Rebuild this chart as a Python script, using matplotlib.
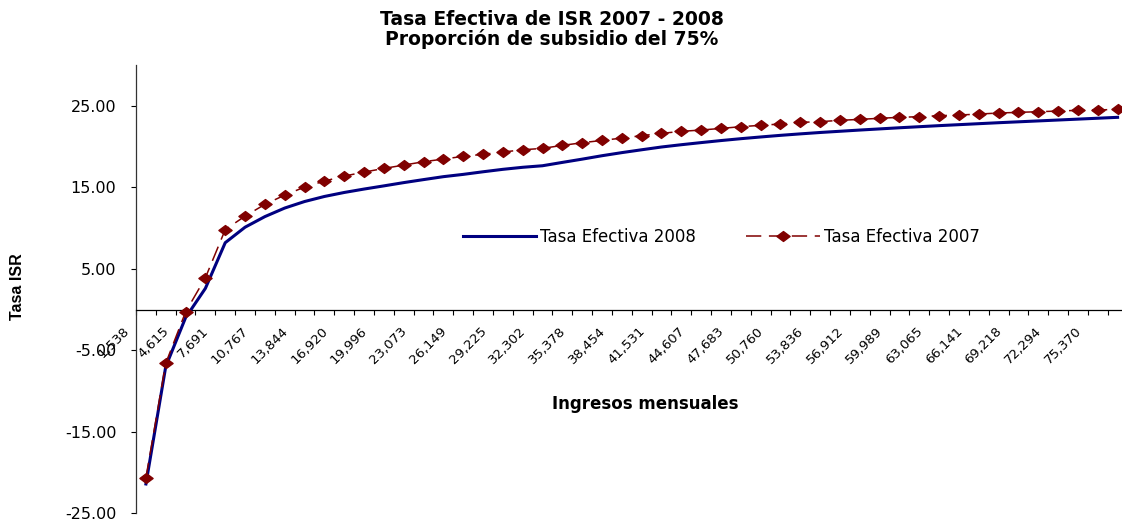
import matplotlib
matplotlib.use('Agg')
import matplotlib.pyplot as plt
from matplotlib.ticker import FixedLocator, FuncFormatter
from matplotlib.transforms import ScaledTranslation
from matplotlib.path import Path
import numpy as np

plt.rcParams['font.family'] = ['DejaVu Sans']
WIDE = ['DejaVu Sans']
ARIAL = ['Liberation Sans', 'DejaVu Sans']

# Monthly income categories (pesos)
ingresos = [1538, 3076, 4615, 6153, 7691, 9229, 10767, 12305, 13844, 15382,
            16920, 18458, 19996, 21534, 23073, 24611, 26149, 27687, 29225, 30763,
            32302, 33840, 35378, 36916, 38454, 39992, 41531, 43069, 44607, 46145,
            47683, 49221, 50760, 52298, 53836, 55374, 56912, 58450, 59989, 61527,
            63065, 64603, 66141, 67679, 69218, 70756, 72294, 73832, 75370, 76908]

tasa_2008 = [-21.4, -7.0, -1.0, 2.6, 8.2, 10.1, 11.4, 12.45, 13.25, 13.87,
             14.36, 14.78, 15.17, 15.57, 15.94, 16.3, 16.58, 16.9, 17.2, 17.45,
             17.64, 18.05, 18.45, 18.87, 19.25, 19.6, 19.94, 20.22, 20.48, 20.73,
             20.96, 21.17, 21.37, 21.55, 21.72, 21.87, 22.02, 22.16, 22.3, 22.43,
             22.56, 22.68, 22.8, 22.92, 23.03, 23.14, 23.25, 23.36, 23.47, 23.58]

tasa_2007 = [-20.65, -6.6, -0.3, 3.9, 9.8, 11.46, 12.9, 14.04, 15.02, 15.76,
             16.37, 16.86, 17.31, 17.72, 18.13, 18.46, 18.79, 19.04, 19.32, 19.6,
             19.77, 20.14, 20.46, 20.75, 21.03, 21.33, 21.61, 21.86, 22.02, 22.22,
             22.43, 22.6, 22.76, 22.96, 23.05, 23.21, 23.33, 23.46, 23.58, 23.66,
             23.78, 23.86, 23.98, 24.11, 24.19, 24.27, 24.35, 24.44, 24.48, 24.56]

y_ticks = [-25, -15, -5, 5, 15, 25]

titulo = "Tasa Efectiva de ISR 2007 - 2008\nProporción de subsidio del 75%"
label_2008 = "Tasa Efectiva 2008"
label_2007 = "Tasa Efectiva 2007"

W, H, DPI = 1122, 523, 100
fig = plt.figure(figsize=(W / DPI, H / DPI), dpi=DPI)


def rect(x0, y0, x1, y1):
    return [x0 / W, 1 - y1 / H, (x1 - x0) / W, (y1 - y0) / H]


ax = fig.add_axes(rect(136, 65, 1127.5, 513.3))
n = len(ingresos)
pos = np.arange(n)

ax.plot(pos, tasa_2008, color='#000080', lw=2.2, solid_joinstyle='round',
        label=label_2008, zorder=3)
diamond = Path([(-1, 0), (0, 0.75), (1, 0), (0, -0.75), (-1, 0)],
               [Path.MOVETO, Path.LINETO, Path.LINETO, Path.LINETO, Path.CLOSEPOLY])
ax.plot(pos, tasa_2007, color='#800000', lw=1.1, dashes=(10, 5), marker=diamond,
        ms=9.5, mec='#800000', mfc='#800000', label=label_2007, zorder=4)

ax.set_xlim(-0.5, n - 0.5)
ax.set_ylim(-25, 30)

for s in ('top', 'right'):
    ax.spines[s].set_visible(False)
ax.spines['bottom'].set_position(('data', 0))
ax.spines['bottom'].set_linewidth(0.9)
ax.spines['left'].set_linewidth(0.9)
ax.spines['left'].set_color('#333333')

ax.xaxis.set_major_locator(FixedLocator(pos[::2]))
ax.set_xticklabels([f'{v:,}' for v in ingresos[::2]], rotation=45, ha='right')
ax.xaxis.set_minor_locator(FixedLocator(np.arange(-0.5, n, 1)))
ax.tick_params(axis='x', which='major', length=0, pad=11, labelsize=9.5)
ax.tick_params(axis='x', which='minor', length=3.6, direction='out', width=0.8)

ax.yaxis.set_major_locator(FixedLocator(y_ticks))
ax.yaxis.set_major_formatter(FuncFormatter(lambda v, p: f'{v:.2f}'))
ax.tick_params(axis='y', which='major', length=3.6, width=0.8, pad=10.5,
               labelsize=11.5, direction='out')

offset = ScaledTranslation(-14 / DPI, 0, fig.dpi_scale_trans)
for lab in ax.xaxis.get_majorticklabels():
    lab.set_transform(lab.get_transform() + offset)

fig.text(552 / W, 1 - 29.5 / H, titulo, ha='center', va='center', ma='center',
         fontsize=13.5, fontweight='bold', linespacing=1.05, family=WIDE)
fig.text(645 / W, 1 - 404 / H, "Ingresos mensuales", ha='center', va='center',
         fontsize=12, fontweight='bold', family=WIDE)
fig.text(18 / W, 1 - 287 / H, "Tasa ISR", ha='center', va='center', rotation=90,
         fontsize=11.5, fontweight='bold', family=ARIAL)

ax.legend(loc='center left', bbox_to_anchor=(463 / W, 1 - 237 / H),
          bbox_transform=fig.transFigure, ncol=2, frameon=False, borderpad=0,
          borderaxespad=0, fontsize=12, handlelength=4.4, handletextpad=0.25,
          columnspacing=3.0, numpoints=1)

fig.savefig('out.png', dpi=DPI)
